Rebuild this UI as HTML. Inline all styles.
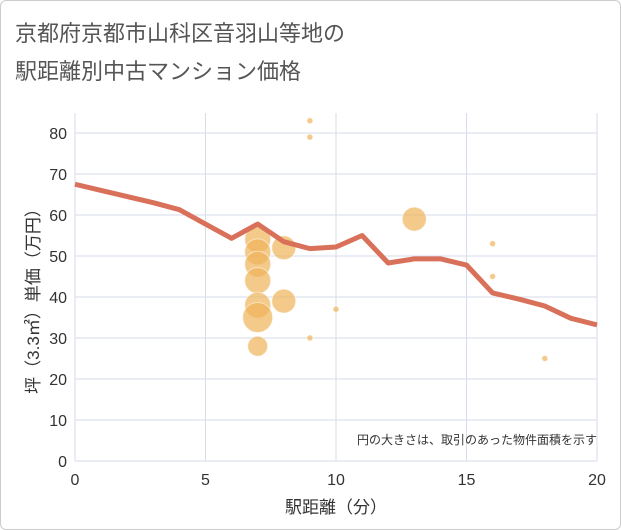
<!DOCTYPE html>
<html><head><meta charset="utf-8"><style>
body{margin:0;background:#fff;font-family:"Liberation Sans","Noto Sans CJK JP",sans-serif;}
#wrap{position:relative;width:619px;height:528px;border:1px solid #ccc;border-radius:6px;overflow:hidden;background:#fff;}
</style></head><body>
<div id="wrap">
<svg id="chart" width="621" height="530">
<text x="14" y="40" font-size="22" fill="#555">京都府京都市山科区音羽山等地の</text>
<text x="14" y="78" font-size="22" fill="#555">駅距離別中古マンション価格</text>
<g id="grid"></g><g id="bubbles"></g><g id="line"></g><g id="axes"></g>
<text x="596" y="443" font-size="12" fill="#333" text-anchor="end">円の大きさは、取引のあった物件面積を示す</text>
<text x="335" y="512" font-size="17" fill="#333" text-anchor="middle">駅距離（分）</text>
<text transform="translate(38,296) rotate(-90)" font-size="17" fill="#333" text-anchor="middle">坪（3.3㎡）単価（万円）</text>
</svg></div>
<script>
const xTicks=[0,5,10,15,20];
const yTicks=[0,10,20,30,40,50,60,70,80];
const lineX=[0,1,2,3,4,5,6,7,8,9,10,11,12,13,14,15,16,17,18,19,20];
const lineY=[67.5,66,64.5,63,61.3,57.8,54.3,57.8,53.5,51.8,52.2,55,48.3,49.3,49.3,47.8,41,39.5,37.8,34.8,33.2];
const bubX=[7,7,7,7,7,7,7,8,8,9,9,9,10,13,16,16,18];
const bubY=[54,51,48,44,38,35,28,52,39,83,79,30,37,59,53,45,25];
const bubR=[13,13,13,13,13,15,10,12,12,3,3,3,3,12,3,3,3];
const NS="http://www.w3.org/2000/svg";
const X=v=>74+v*26.1, Y=v=>460-v*4.1;
function mk(t,a,p){const e=document.createElementNS(NS,t);for(const k in a)e.setAttribute(k,a[k]);p.appendChild(e);return e;}
const g=document.getElementById('grid'),ax=document.getElementById('axes');
yTicks.forEach(v=>{const l=mk('line',{x1:74,x2:596,y1:Y(v),y2:Y(v),stroke:'#d5dde8'},g);


const t=mk('text',{x:66,y:Y(v)+6,'font-size':16,fill:'#333','text-anchor':'end'},ax);t.textContent=v;

});
xTicks.forEach(v=>{const l=mk('line',{x1:X(v),x2:X(v),y1:112,y2:460,stroke:'#d5dde8'},g);


const t=mk('text',{x:X(v),y:484,'font-size':16,fill:'#333','text-anchor':'middle'},ax);t.textContent=v;

});
const b=document.getElementById('bubbles');
bubX.forEach((v,i)=>{const c=mk('circle',{cx:X(v),cy:Y(bubY[i]),r:bubR[i],fill:'#f0b45a','fill-opacity':0.7,stroke:'#fff','stroke-opacity':0.5},b);

});
const p=mk('polyline',{points:lineX.map((v,i)=>X(v)+','+Y(lineY[i])).join(' '),fill:'none',stroke:'#d9705a','stroke-width':5,'stroke-linejoin':'round'},document.getElementById('line'));


</script>
</body></html>
